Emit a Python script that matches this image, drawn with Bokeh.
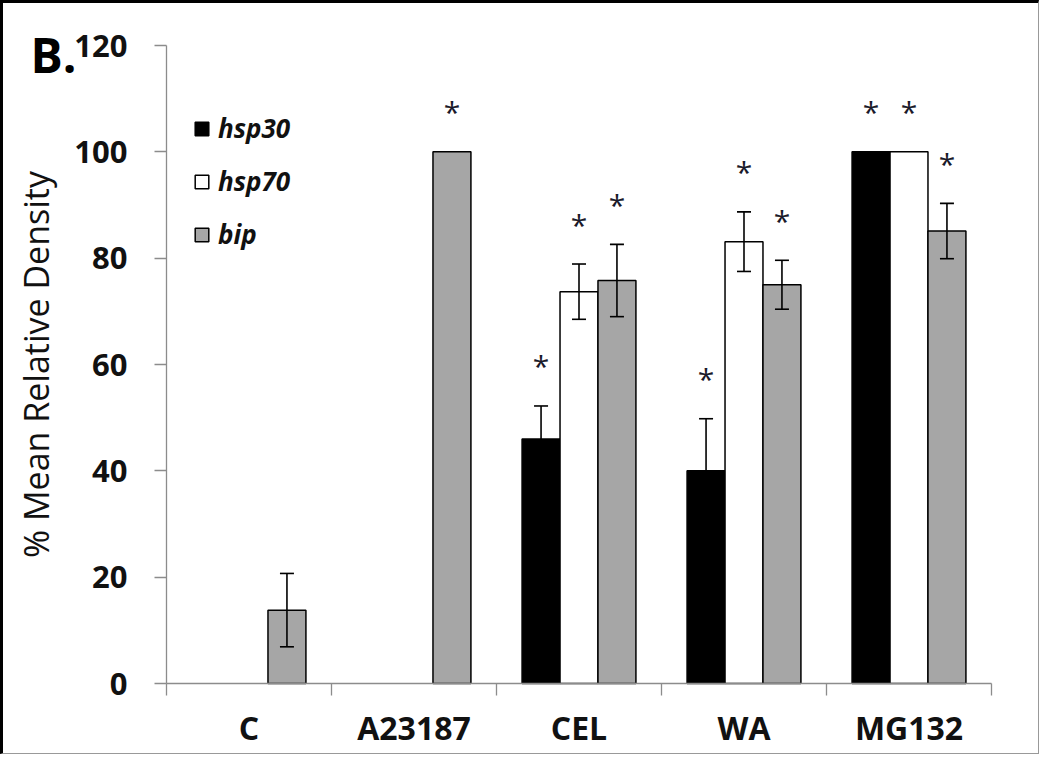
from bokeh.plotting import figure
from bokeh.models import (Range1d, LinearAxis, FixedTicker,
                          ColumnDataSource, Whisker, Legend, LegendItem, Label)
from bokeh.transform import dodge
from bokeh.core.properties import value
from bokeh.embed import file_html
from bokeh.resources import INLINE

# ---- data ----
categories = ["C", "A23187", "CEL", "WA", "MG132"]
series = ["hsp30", "hsp70", "bip"]
hsp30 = [0, 0, 46.0, 40.0, 100.0]
hsp30_err = [0, 0, 6.2, 9.8, 0]
hsp70 = [0, 0, 73.7, 83.1, 100.0]
hsp70_err = [0, 0, 5.2, 5.6, 0]
bip = [13.8, 100.0, 75.8, 75.0, 85.1]
bip_err = [6.9, 0, 6.8, 4.6, 5.2]
hsp30_sig = [False, False, True, True, True]
hsp70_sig = [False, False, True, True, True]
bip_sig = [False, True, True, True, True]
y_ticks = [0, 20, 40, 60, 80, 100, 120]

values = {"hsp30": hsp30, "hsp70": hsp70, "bip": bip}
errors = {"hsp30": hsp30_err, "hsp70": hsp70_err, "bip": bip_err}
sigs = {"hsp30": hsp30_sig, "hsp70": hsp70_sig, "bip": bip_sig}
fills = {"hsp30": "black", "hsp70": "white", "bip": "#a6a6a6"}
offsets = {"hsp30": -0.23, "hsp70": 0.0, "bip": 0.23}

FONT = "Open Sans"
AXIS_GRAY = "#8c8c8c"

n = len(categories)
y_max = y_ticks[-1]
centers = [i + 0.5 for i in range(n)]
bounds = [float(i) for i in range(n + 1)]

# layout: the frame fills the whole canvas; both axes are pinned at 0 inside it
W, H = 1039, 754
LEFT, RIGHT, TOP, BOTTOM = 163, 51, 42, 74     # pixel margins around the plotting area
xppu = (W - LEFT - RIGHT) / n
yppu = (H - TOP - BOTTOM) / y_max
x_range = Range1d(-LEFT / xppu, n + RIGHT / xppu)
y_range = Range1d(-BOTTOM / yppu, y_max + TOP / yppu)

p = figure(width=W, height=H, x_range=x_range, y_range=y_range,
           x_axis_location=None, y_axis_location=None,
           output_backend="svg", toolbar_location=None,
           min_border_left=0, min_border_right=0, min_border_top=0, min_border_bottom=0)
p.styles = {"border-top": "3px solid black", "border-left": "3px solid black",
            "border-right": "1px solid #999999", "border-bottom": "1px solid #999999"}
p.outline_line_color = None
p.background_fill_color = "white"
p.border_fill_color = "white"
for g in p.grid:
    g.visible = False

# y axis, pinned at x = 0
ya = LinearAxis(ticker=FixedTicker(ticks=y_ticks), fixed_location=0, bounds=(0, y_max))
ya.major_label_text_font = FONT
ya.major_label_text_font_style = "bold"
ya.major_label_text_font_size = "31px"
ya.major_label_text_color = "#111111"
ya.major_label_standoff = 27
ya.major_tick_out = 12
ya.major_tick_in = 0
ya.minor_tick_out = 0
ya.minor_tick_in = 0
ya.axis_line_color = AXIS_GRAY
ya.axis_line_width = 1.3
ya.major_tick_line_color = AXIS_GRAY
ya.major_tick_line_width = 1.3
ya.axis_label = "% Mean Relative Density"
ya.axis_label_text_font = FONT
ya.axis_label_text_font_style = "normal"
ya.axis_label_text_font_size = "34px"
ya.axis_label_text_color = "#111111"
ya.axis_label_standoff = 12
p.add_layout(ya, "left")

# x axis pinned at y = 0: labels at category centres, minor ticks at boundaries
cx = LinearAxis(ticker=FixedTicker(ticks=centers, minor_ticks=bounds), fixed_location=0,
                bounds=(0, n),
                major_label_overrides={c: lab for c, lab in zip(centers, categories)})
cx.axis_line_color = AXIS_GRAY
cx.axis_line_width = 1.3
cx.major_tick_line_color = None
cx.major_tick_out = 12
cx.major_tick_in = 0
cx.minor_tick_line_color = AXIS_GRAY
cx.minor_tick_line_width = 1.3
cx.minor_tick_out = 12
cx.minor_tick_in = 0
cx.major_label_text_font = FONT
cx.major_label_text_font_style = "bold"
cx.major_label_text_font_size = "32px"
cx.major_label_text_color = "#111111"
cx.major_label_standoff = 10
p.add_layout(cx, "below")

legend_items = []
for s in series:
    rows = [i for i, v in enumerate(values[s]) if v > 0]
    src = ColumnDataSource(dict(
        x=[centers[i] for i in rows],
        val=[values[s][i] for i in rows],
    ))
    r = p.vbar(x=dodge("x", offsets[s]), top="val", width=0.23, source=src,
               fill_color=fills[s], line_color="black", line_width=1.5)
    legend_items.append(LegendItem(label=s, renderers=[r]))

    erows = [i for i in rows if errors[s][i] > 0]
    esrc = ColumnDataSource(dict(
        x=[centers[i] for i in erows],
        upper=[values[s][i] + errors[s][i] for i in erows],
        lower=[values[s][i] - errors[s][i] for i in erows],
    ))
    w = Whisker(base=dodge("x", offsets[s]), upper="upper", lower="lower",
                source=esrc, line_color="black", line_width=1.6, level="annotation")
    w.upper_head.size = 14
    w.lower_head.size = 14
    w.upper_head.line_color = "black"
    w.lower_head.line_color = "black"
    w.upper_head.line_width = 1.6
    w.lower_head.line_width = 1.6
    p.add_layout(w)

    srows = [i for i in rows if sigs[s][i]]
    ssrc = ColumnDataSource(dict(
        x=[centers[i] for i in srows],
        y=[values[s][i] + errors[s][i] for i in srows],
    ))
    p.text(x=dodge("x", offsets[s]), y="y", text=value("*"), source=ssrc,
           text_font=value(FONT), text_font_size="30px", text_align="center",
           text_baseline="alphabetic", y_offset=-40, text_color="#1a1a2a")

leg = Legend(items=legend_items, location=(LEFT + 27, BOTTOM + 431))
leg.label_text_font = FONT
leg.label_text_font_style = "bold italic"
leg.label_text_font_size = "26px"
leg.label_text_color = "#111111"
leg.glyph_width = 17
leg.glyph_height = 17
leg.label_height = 17
leg.label_standoff = 8
leg.spacing = 17
leg.padding = 0
leg.margin = 0
leg.border_line_color = None
leg.background_fill_alpha = 0
p.add_layout(leg)

p.add_layout(Label(x=27, y=703, x_units="screen", y_units="screen", text="B.",
                   text_font=FONT, text_font_style="bold", text_font_size="48px",
                   text_color="black", text_baseline="alphabetic", level="overlay"))

open("out.html", "w").write(file_html(p, INLINE))
